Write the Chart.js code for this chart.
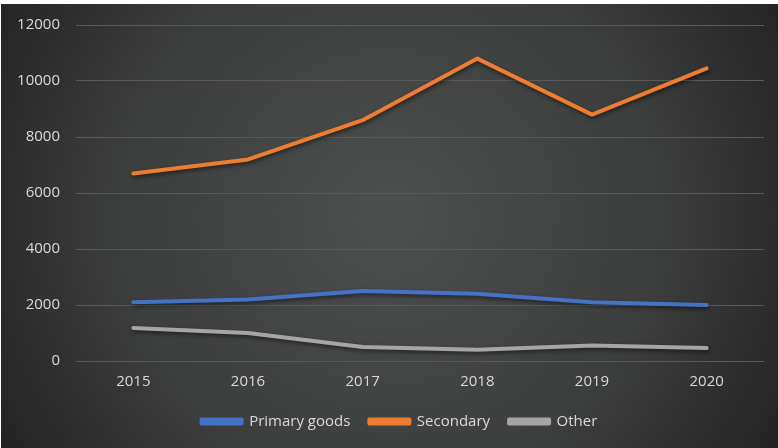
<!DOCTYPE html>
<html>
<head>
<meta charset="utf-8">
<script src="https://cdn.jsdelivr.net/npm/chart.js@4"></script>
<style>
  html, body { margin: 0; padding: 0; background: #ffffff; }
  #wrap { position: absolute; left: 1px; top: 4px; width: 777px; height: 444px; }
</style>
</head>
<body>
<div id="wrap"><canvas id="c" width="777" height="444"></canvas></div>
<script>
// Years on the category axis
const years = ['2015', '2016', '2017', '2018', '2019', '2020'];
// Values per product group
const primaryGoods = [2100, 2200, 2500, 2400, 2100, 2000];
const secondary = [6700, 7200, 8600, 10800, 8800, 10450];
const other = [1180, 1000, 500, 400, 550, 460];
// Value axis ticks
const yTicks = [0, 2000, 4000, 6000, 8000, 10000, 12000];

const textColor = '#d9d9d9';
const fontFamily = '"Open Sans", "DejaVu Sans", sans-serif';

// Dark radial backdrop behind the whole chart
const backdrop = {
  id: 'backdrop',
  beforeDraw(chart) {
    const { ctx, width, height } = chart;
    const g = ctx.createRadialGradient(width * 0.5, height * 0.48, 10, width * 0.5, height * 0.48, width * 0.62);
    g.addColorStop(0, '#4d4e4e');
    g.addColorStop(0.55, '#3c3d3d');
    g.addColorStop(1, '#1f1f1f');
    ctx.save();
    ctx.fillStyle = g;
    ctx.fillRect(0, 0, width, height);
    ctx.restore();
  }
};

// Nudge the legend row a little to the right of the canvas centre
const legendShift = {
  id: 'legendShift',
  afterLayout(chart) {
    if (chart.legend) {
      chart.legend.left += 17;
      chart.legend.right += 17;
    }
  }
};

// Soft shadow under each line
const lineShadow = {
  id: 'lineShadow',
  beforeDatasetDraw(chart) {
    const ctx = chart.ctx;
    ctx.save();
    ctx.shadowColor = 'rgba(0,0,0,0.55)';
    ctx.shadowBlur = 4;
    ctx.shadowOffsetX = 1;
    ctx.shadowOffsetY = 2;
  },
  afterDatasetDraw(chart) {
    chart.ctx.restore();
  }
};

const makeSet = (label, data, color) => ({
  label, data,
  borderColor: color,
  backgroundColor: color,
  borderWidth: 4,
  borderCapStyle: 'round',
  borderJoinStyle: 'round',
  pointRadius: 0,
  pointHoverRadius: 0,
  tension: 0,
  fill: false
});

new Chart(document.getElementById('c'), {
  type: 'line',
  data: {
    labels: years,
    datasets: [
      makeSet('Primary goods', primaryGoods, '#4472c4'),
      makeSet('Secondary', secondary, '#ed7d31'),
      makeSet('Other', other, '#a5a5a5')
    ]
  },
  options: {
    responsive: false,
    animation: false,
    devicePixelRatio: 1,
    layout: { padding: { left: 0, right: 14, top: 21, bottom: 9 } },
    plugins: {
      tooltip: { enabled: false },
      legend: {
        position: 'bottom',
        labels: {
          color: textColor,
          font: { family: fontFamily, size: 15 },
          boxWidth: 40,
          boxHeight: 4,
          padding: 19
        }
      }
    },
    scales: {
      x: {
        offset: true,
        grid: { display: false },
        border: { display: false },
        ticks: { color: textColor, font: { family: fontFamily, size: 15 }, padding: 4 }
      },
      y: {
        min: 0,
        max: 12000,
        afterBuildTicks(scale) { scale.ticks = yTicks.map(v => ({ value: v })); },
        afterFit(scale) {
          scale.width = 75;
          scale.paddingTop = 0;
          scale.paddingBottom = 0;
        },
        grid: { color: '#5a5a5a', lineWidth: 1, drawTicks: false },
        border: { display: false },
        ticks: {
          color: textColor,
          font: { family: fontFamily, size: 15 },
          padding: 16,
          callback: v => String(v)
        }
      }
    }
  },
  plugins: [backdrop, legendShift, lineShadow]
});
</script>
</body>
</html>
